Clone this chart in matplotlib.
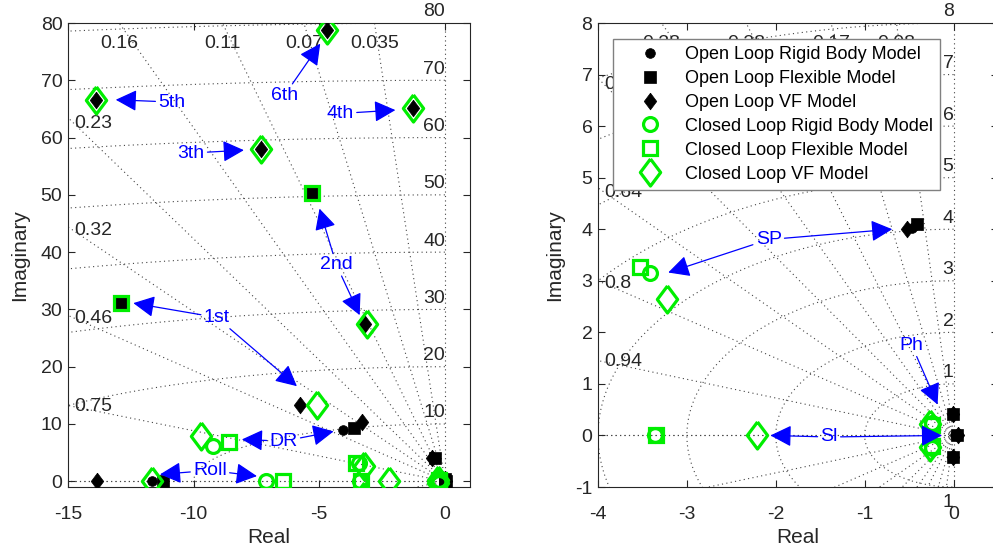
import matplotlib.pyplot as plt
import numpy as np
from matplotlib.lines import Line2D

plt.rcParams['font.family'] = ['Liberation Sans', 'DejaVu Sans']
plt.rcParams['axes.unicode_minus'] = False

# Poler (reell, imag >= 0); konjugerte poler legges til ved plotting
ol_rigid = [(-11.67, 0), (-4.07, 8.9), (-0.47, 4.03), (-0.01, 0.42), (0.02, 0)]
ol_flex = [(-11.2, 0), (-3.6, 9.3), (-0.41, 4.1), (-0.01, 0.41), (0.04, 0),
           (-12.9, 31.2), (-5.27, 50.4)]
ol_vf = [(-13.83, 0), (-3.3, 10.3), (-0.525, 4.0), (-0.01, 0.42), (0.045, 0),
         (-5.76, 13.4), (-3.19, 27.4), (-7.31, 58.0), (-1.28, 65.2),
         (-13.9, 66.6), (-4.69, 78.7)]
cl_rigid = [(-7.12, 0), (-9.21, 6.2), (-3.42, 3.15), (-3.36, 0), (-0.24, 0.24)]
cl_flex = [(-6.45, 0), (-8.58, 6.8), (-3.53, 3.26), (-3.35, 0), (-0.24, 0.2),
           (-12.9, 31.2), (-5.27, 50.4)]
cl_vf = [(-11.67, 0), (-9.72, 7.96), (-3.22, 2.65), (-2.21, 0), (-0.26, 0.22),
         (-5.09, 13.3), (-3.1, 27.4), (-7.31, 58.0), (-1.28, 65.2),
         (-13.9, 66.6), (-4.69, 78.7)]

legend_labels = ['Open Loop Rigid Body Model', 'Open Loop Flexible Model',
                 'Open Loop VF Model', 'Closed Loop Rigid Body Model',
                 'Closed Loop Flexible Model', 'Closed Loop VF Model']

# Gitter (sgrid): demping og egenfrekvens
zeta_left = [0.035, 0.07, 0.11, 0.16, 0.23, 0.32, 0.46, 0.75]
wn_left = [10, 20, 30, 40, 50, 60, 70, 80]
zeta_right = [0.08, 0.17, 0.28, 0.38, 0.5, 0.64, 0.8, 0.94]
wn_right = [1, 2, 3, 4, 5, 6, 7, 8]

# Piler med tekst: navn, tekstposisjon, pilspisser
left_notes = [
    ('5th', (-10.87, 66.2), [(-13.1, 66.6)]),
    ('6th', (-6.38, 67.4), [(-4.96, 76.4)]),
    ('4th', (-4.16, 64.2), [(-1.97, 64.8)]),
    ('3th', (-10.1, 57.3), [(-8.0, 57.8)]),
    ('2nd', (-4.32, 37.8), [(-4.99, 47.6), (-3.39, 29.0)]),
    ('1st', (-9.08, 28.6), [(-12.4, 31.1), (-5.89, 16.6)]),
    ('DR', (-6.42, 7.0), [(-8.08, 7.3), (-4.43, 8.7)]),
    ('Roll', (-9.35, 1.9), [(-11.34, 1.2), (-7.48, 0.9)]),
]
right_notes = [
    ('SP', (-2.08, 3.8), [(-0.69, 4.0), (-3.21, 3.16)]),
    ('Ph', (-0.47, 1.75), [(-0.18, 0.6)]),
    ('Sl', (-1.4, -0.03), [(-2.06, 0), (-0.13, 0)]),
]

DIAMOND = [(0, 1), (0.75, 0), (0, -1), (-0.75, 0), (0, 1)]
GREEN = '#00ee00'
TXT = '#262626'
styles = [
    dict(marker='o', ms=7, mfc='k', mec='k', mew=0.5),
    dict(marker='s', ms=8.5, mfc='k', mec='k', mew=0.5),
    dict(marker=DIAMOND, ms=12, mfc='k', mec='k', mew=0.5),
    dict(marker='o', ms=10, mfc='none', mec=GREEN, mew=2.3),
    dict(marker='s', ms=10.5, mfc='none', mec=GREEN, mew=2.3),
    dict(marker=DIAMOND, ms=19.5, mfc='none', mec=GREEN, mew=2.3),
]
series = [ol_rigid, ol_flex, ol_vf, cl_rigid, cl_flex, cl_vf]


def sgrid(ax, zetas, wns):
    x0, x1 = ax.get_xlim()
    y0, y1 = ax.get_ylim()
    kw = dict(color='#444444', lw=0.8, ls=(0, (1, 3)), zorder=1)
    r = 3 * max(wns)
    for z in zetas + [0, 1]:
        s = np.sqrt(1 - z**2)
        ax.plot([0, -r * z], [0, r * s], **kw)
        ax.plot([0, -r * z], [0, -r * s], **kw)
    t = np.linspace(np.pi / 2, 3 * np.pi / 2, 400)
    for w in wns:
        ax.plot(w * np.cos(t), w * np.sin(t), **kw)
        ax.annotate(str(w), (0, w), xytext=(0, 8), textcoords='offset points',
                    ha='right', va='center', fontsize=14, color=TXT)
    # piksel -> data for venstre marg
    p0 = ax.transData.transform((x0, 0))
    dx = ax.transData.inverted().transform((p0[0] + 6, p0[1]))[0] - x0
    for z in zetas:
        s = np.sqrt(1 - z**2)
        xt = -y1 * z / s
        if xt > x0:
            ax.annotate(f'{z:g}', (xt, y1), xytext=(0, -15), textcoords='offset points',
                        ha='center', va='center', fontsize=14, color=TXT)
        else:
            xl = x0 + dx
            ax.text(xl, -xl * s / z, f'{z:g}', ha='left', va='center',
                    fontsize=14, color=TXT)


def notes(ax, items):
    for name, pos, heads in items:
        for i, h in enumerate(heads):
            ax.annotate(name, xy=h, xytext=pos, ha='center', va='center',
                        fontsize=14, color='blue' if i == 0 else 'none', zorder=5,
                        arrowprops=dict(arrowstyle='-|>,head_length=0.65,head_width=0.33',
                                        color='blue', lw=0.9, mutation_scale=20,
                                        shrinkA=0, shrinkB=0))


def style_axes(ax):
    ax.tick_params(direction='in', length=5, top=True, right=True, labelsize=14,
                   colors=TXT)
    ax.tick_params(axis='x', pad=14)
    ax.tick_params(axis='y', pad=4)
    for sp in ax.spines.values():
        sp.set_color(TXT)
        sp.set_linewidth(0.8)
    ax.set_xlabel('Real', fontsize=15, color=TXT, labelpad=3)
    ax.set_ylabel('Imaginary', fontsize=15, color=TXT, labelpad=8)


def plot_poles(ax):
    for pts, st in zip(series, styles):
        re = [p[0] for p in pts] + [p[0] for p in pts if p[1] != 0]
        im = [p[1] for p in pts] + [-p[1] for p in pts if p[1] != 0]
        ax.plot(re, im, ls='none', zorder=3, **st)


fig = plt.figure(figsize=(9.93, 5.51), dpi=100)
ax1 = fig.add_axes([68 / 993, 64 / 551, 402 / 993, 464 / 551])
ax2 = fig.add_axes([598 / 993, 64 / 551, 400 / 993, 464 / 551])

ax1.set_xlim(-15, 1)
ax1.set_ylim(-1, 80)
ax1.set_xticks([-15, -10, -5, 0])
ax1.set_yticks(range(0, 81, 10))
ax2.set_xlim(-4, 0.5)
ax2.set_ylim(-1, 8)
ax2.set_xticks([-4, -3, -2, -1, 0])
ax2.set_yticks(range(-1, 9))

for ax, z, w, nt in [(ax1, zeta_left, wn_left, left_notes),
                     (ax2, zeta_right, wn_right, right_notes)]:
    sgrid(ax, z, w)
    plot_poles(ax)
    notes(ax, nt)
    style_axes(ax)
ax2.text(0, -1.31, '1', ha='right', va='center', fontsize=14, color=TXT)

handles = [Line2D([], [], ls='none', **st) for st in styles]
leg = ax2.legend(handles, legend_labels, loc='upper left', fontsize=13,
                 bbox_to_anchor=(613 / 993, 512 / 551), bbox_transform=fig.transFigure,
                 borderaxespad=0, fancybox=False, framealpha=1, edgecolor='#808080',
                 handlelength=3.3, handletextpad=0.3, labelspacing=0.38, borderpad=0.4)
leg.get_frame().set_linewidth(1)
leg.set_zorder(10)

fig.savefig('out.png', dpi=100)
